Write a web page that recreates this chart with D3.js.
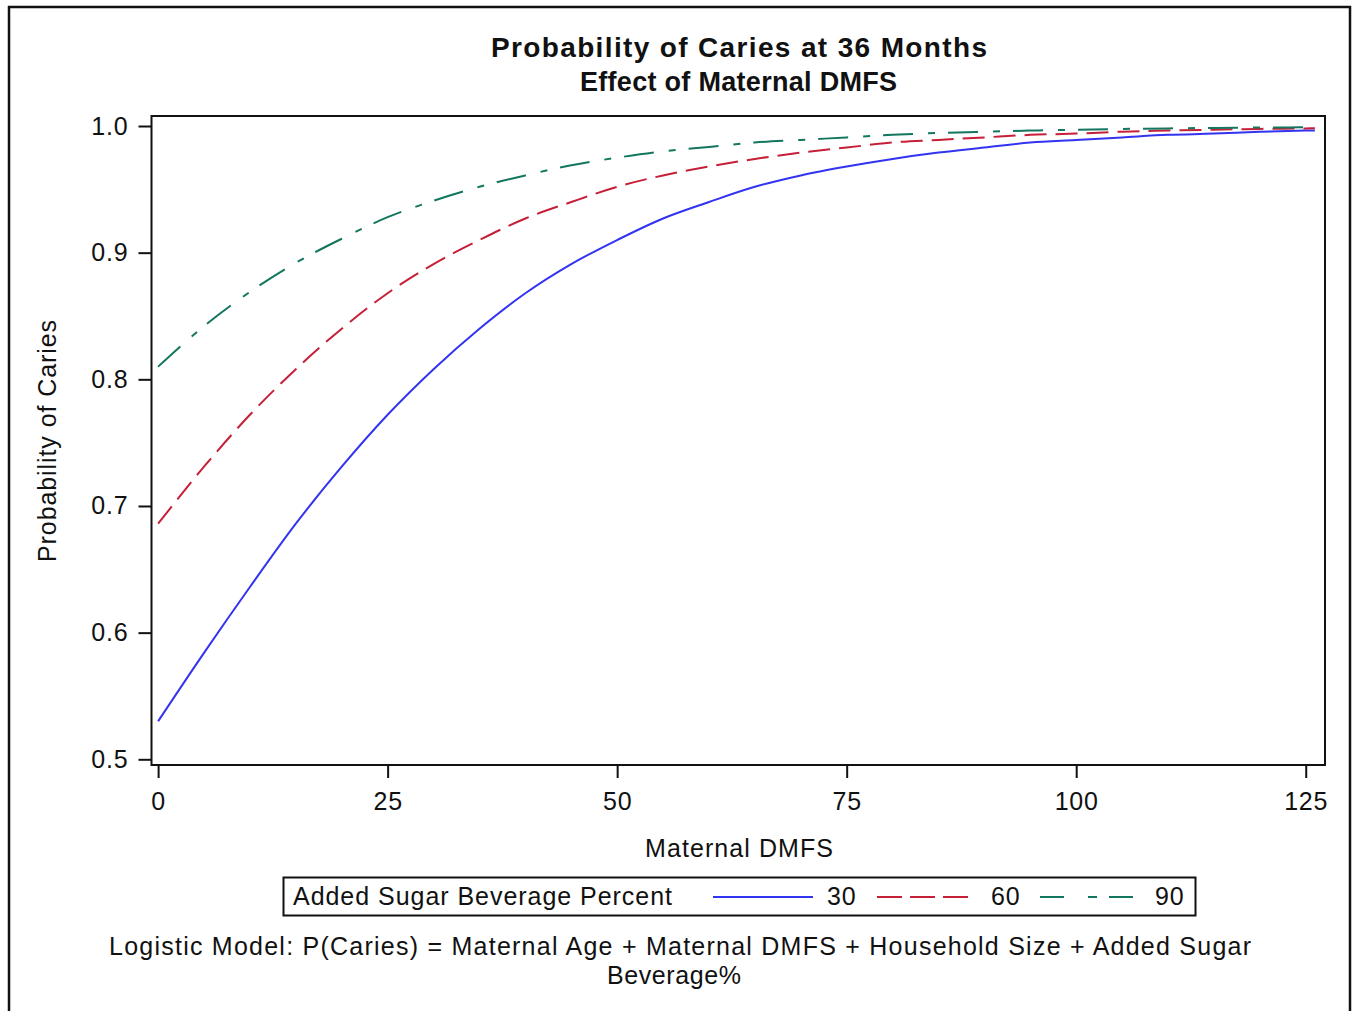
<!DOCTYPE html>
<html>
<head>
<meta charset="utf-8">
<script src="https://cdn.jsdelivr.net/npm/d3@7"></script>
<style>
  html, body { margin: 0; padding: 0; background: #fff; }
  svg { display: block; }
  text { font-family: "Liberation Sans", Arial, sans-serif; fill: #111; }
</style>
</head>
<body>
<svg id="chart" width="1357" height="1011"></svg>
<script>
// ---- data ----
const dmfs = [0, 5, 10, 15, 20, 25, 30, 35, 40, 45, 50, 55, 60, 65, 70, 75, 80, 85, 90, 95, 100, 105, 110, 115, 120, 125, 126];
const sugar30 = [0.530, 0.584, 0.636, 0.686, 0.731, 0.772, 0.808, 0.840, 0.868, 0.891, 0.910, 0.927, 0.940, 0.952, 0.961, 0.968, 0.974, 0.979, 0.983, 0.987, 0.989, 0.991, 0.993, 0.994, 0.9955, 0.9964, 0.9965];
const sugar60 = [0.686, 0.731, 0.772, 0.808, 0.840, 0.868, 0.891, 0.910, 0.927, 0.940, 0.952, 0.961, 0.968, 0.974, 0.979, 0.983, 0.987, 0.989, 0.991, 0.993, 0.994, 0.9955, 0.9964, 0.9971, 0.9977, 0.9981, 0.9982];
const sugar90 = [0.810, 0.842, 0.869, 0.892, 0.911, 0.928, 0.941, 0.952, 0.961, 0.969, 0.975, 0.980, 0.9835, 0.987, 0.989, 0.991, 0.993, 0.9945, 0.9955, 0.9964, 0.9971, 0.9977, 0.9981, 0.9985, 0.9988, 0.9990, 0.9991];
const seriesNames = ["30", "60", "90"];
const xTicks = [0, 25, 50, 75, 100, 125];
const yTicks = [0.5, 0.6, 0.7, 0.8, 0.9, 1.0];
const titleText = "Probability of Caries at 36 Months";
const subtitleText = "Effect of Maternal DMFS";
const xLabel = "Maternal DMFS";
const yLabel = "Probability of Caries";
const legendTitle = "Added Sugar Beverage Percent";
const footnote1 = "Logistic Model: P(Caries) = Maternal Age + Maternal DMFS + Household Size + Added Sugar";
const footnote2 = "Beverage%";

// ---- layout ----
const svg = d3.select("#chart");
const plot = { left: 151.5, right: 1325, top: 116, bottom: 765 };
const x = d3.scaleLinear().domain([-0.72, 127.1]).range([plot.left, plot.right]);
const y = d3.scaleLinear().domain([0.4955, 1.0079]).range([plot.bottom, plot.top]);

const styles = [
  { color: "#3333f2", dash: null },
  { color: "#c61f38", dash: "22,9" },
  { color: "#13765f", dash: "30,15,7,13" }
];
const allSeries = [sugar30, sugar60, sugar90];

// outer border
svg.append("rect").attr("x", 9).attr("y", 7).attr("width", 1341).attr("height", 1100)
  .attr("fill", "none").attr("stroke", "#111").attr("stroke-width", 2.5);

// titles
svg.append("text").attr("x", 739).attr("y", 57).attr("text-anchor", "middle")
  .attr("font-size", 28).attr("font-weight", "bold")
  .attr("textLength", 496).attr("lengthAdjust", "spacing").text(titleText);
svg.append("text").attr("x", 738.5).attr("y", 91).attr("text-anchor", "middle")
  .attr("font-size", 27).attr("font-weight", "bold")
  .attr("textLength", 317).attr("lengthAdjust", "spacing").text(subtitleText);

// lines (clipped)
svg.append("clipPath").attr("id", "clip").append("rect")
  .attr("x", plot.left).attr("y", plot.top)
  .attr("width", plot.right - plot.left).attr("height", plot.bottom - plot.top);

const line = d3.line().x((d, i) => x(dmfs[i])).y(d => y(d)).curve(d3.curveMonotoneX);
const g = svg.append("g").attr("clip-path", "url(#clip)");
allSeries.forEach((s, k) => {
  g.append("path").datum(s).attr("d", line)
    .attr("fill", "none").attr("stroke", styles[k].color).attr("stroke-width", 2)
    .attr("stroke-dasharray", styles[k].dash);
});

// frame
svg.append("rect").attr("x", plot.left).attr("y", plot.top)
  .attr("width", plot.right - plot.left).attr("height", plot.bottom - plot.top)
  .attr("fill", "none").attr("stroke", "#111").attr("stroke-width", 2);

// axes
const xAxis = svg.append("g").attr("transform", `translate(0,${plot.bottom})`)
  .call(d3.axisBottom(x).tickValues(xTicks).tickSize(13).tickSizeOuter(0).tickPadding(14));
const yAxis = svg.append("g").attr("transform", `translate(${plot.left},0)`)
  .call(d3.axisLeft(y).tickValues(yTicks).tickSize(13).tickSizeOuter(0).tickPadding(10).tickFormat(d3.format(".1f")));
[xAxis, yAxis].forEach(a => {
  a.select(".domain").remove();
  a.selectAll(".tick line").attr("stroke", "#111").attr("stroke-width", 2);
  a.selectAll(".tick text").attr("font-size", 25).attr("letter-spacing", 0.8)
    .attr("font-family", "'Liberation Sans', Arial, sans-serif").attr("fill", "#111");
});

// axis labels
svg.append("text").attr("x", 739).attr("y", 857).attr("text-anchor", "middle")
  .attr("font-size", 25).attr("textLength", 188).attr("lengthAdjust", "spacing").text(xLabel);
svg.append("text").attr("transform", "translate(56,441) rotate(-90)").attr("text-anchor", "middle")
  .attr("font-size", 25).attr("textLength", 242).attr("lengthAdjust", "spacing").text(yLabel);

// legend
svg.append("rect").attr("x", 283.5).attr("y", 877.5).attr("width", 912).attr("height", 38)
  .attr("fill", "none").attr("stroke", "#111").attr("stroke-width", 2);
svg.append("text").attr("x", 293).attr("y", 905).attr("font-size", 25)
  .attr("textLength", 379).attr("lengthAdjust", "spacing").text(legendTitle);
const legendItems = [
  { x1: 713, x2: 813, tx: 827 },
  { x1: 877, x2: 970, tx: 991 },
  { x1: 1040, x2: 1140, tx: 1155 }
];
legendItems.forEach((it, k) => {
  svg.append("line").attr("x1", it.x1).attr("x2", it.x2).attr("y1", 897).attr("y2", 897)
    .attr("stroke", styles[k].color).attr("stroke-width", 2)
    .attr("stroke-dasharray", k === 1 ? "25,8" : (k === 2 ? "24,24,9,12" : null));
  svg.append("text").attr("x", it.tx).attr("y", 905).attr("font-size", 25)
    .attr("letter-spacing", 0.8).text(seriesNames[k]);
});

// footnote
svg.append("text").attr("x", 680).attr("y", 955).attr("text-anchor", "middle")
  .attr("font-size", 25).attr("textLength", 1142).attr("lengthAdjust", "spacing").text(footnote1);
svg.append("text").attr("x", 674).attr("y", 984).attr("text-anchor", "middle")
  .attr("font-size", 25).attr("textLength", 134).attr("lengthAdjust", "spacing").text(footnote2);
</script>
</body>
</html>
